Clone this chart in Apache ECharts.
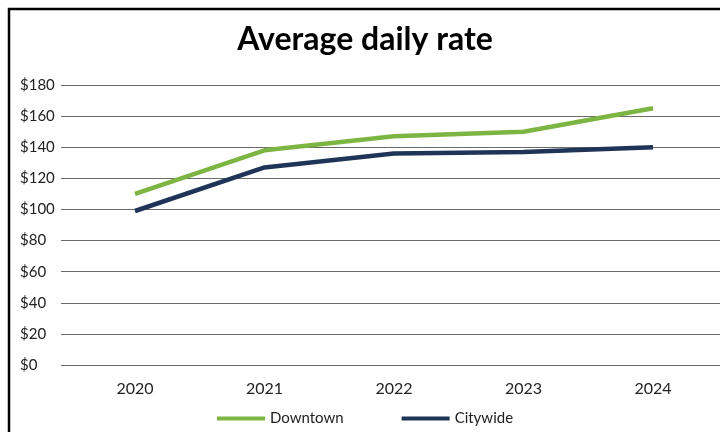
<!DOCTYPE html>
<html><head><meta charset="utf-8">
<script src="https://cdn.jsdelivr.net/npm/echarts@6/dist/echarts.min.js"></script>
<style>html,body{margin:0;padding:0;background:#fff}#c{width:720px;height:432px}</style>
</head><body><div id="c"></div>
<script>
const years = ['2020','2021','2022','2023','2024'];
const downtown = [110, 138, 147, 150, 165];
const citywide = [99, 127, 136, 137, 140];
const yTicks = [0, 20, 40, 60, 80, 100, 120, 140, 160, 180];

const chart = echarts.init(document.getElementById('c'));
const font = 'Lato';
chart.setOption({
  animation: false,
  backgroundColor: '#fff',
  graphic: [
    {type: 'rect', shape: {x: 9, y: 9, width: 800, height: 600},
     style: {fill: 'none', stroke: '#000', lineWidth: 2.5}, silent: true},
    {type: 'text', x: 365, y: 40, silent: true,
     style: {text: 'Average daily rate', fontFamily: font, fontWeight: 'bold', fontSize: 32,
       fill: '#000', align: 'center', verticalAlign: 'middle'}}
  ],
  legend: {bottom: 1, left: 212, itemWidth: 48, itemHeight: 4, itemGap: 58,
    icon: 'rect',
    textStyle: {fontFamily: font, fontSize: 15, color: '#222', padding: [0,0,0,0]},
    data: ['Downtown', 'Citywide']},
  grid: [
    {left: 70.25, right: 2.25, top: 85, bottom: 67, containLabel: false},
    {left: 61, right: 0, top: 85, bottom: 67, containLabel: false}
  ],
  xAxis: [
    {type: 'category', gridIndex: 0, data: years, boundaryGap: true,
     axisLine: {show: false}, axisTick: {show: false},
     axisLabel: {margin: 16, fontFamily: font, fontSize: 16, color: '#222'}},
    {type: 'category', gridIndex: 1, data: years, show: false}
  ],
  yAxis: [
    {type: 'value', gridIndex: 0, min: 0, max: 180, interval: 20, show: false, splitLine: {show: false}},
    {type: 'value', gridIndex: 1, min: 0, max: 180, interval: 20,
     axisLine: {show: false}, axisTick: {show: false},
     axisLabel: {align: 'left', margin: 41, fontFamily: font, fontSize: 15, color: '#222',
       formatter: v => '$' + v},
     splitLine: {lineStyle: {color: '#6a6a6a', width: 1.2}}}
  ],
  series: [
    {name: 'Downtown', type: 'line', xAxisIndex: 0, yAxisIndex: 0, data: downtown,
     symbol: 'none', lineStyle: {width: 4.5, color: '#7db543'}, itemStyle: {color: '#7db543'}},
    {name: 'Citywide', type: 'line', xAxisIndex: 0, yAxisIndex: 0, data: citywide,
     symbol: 'none', lineStyle: {width: 4.5, color: '#1e3557'}, itemStyle: {color: '#1e3557'}}
  ]
});
</script></body></html>
